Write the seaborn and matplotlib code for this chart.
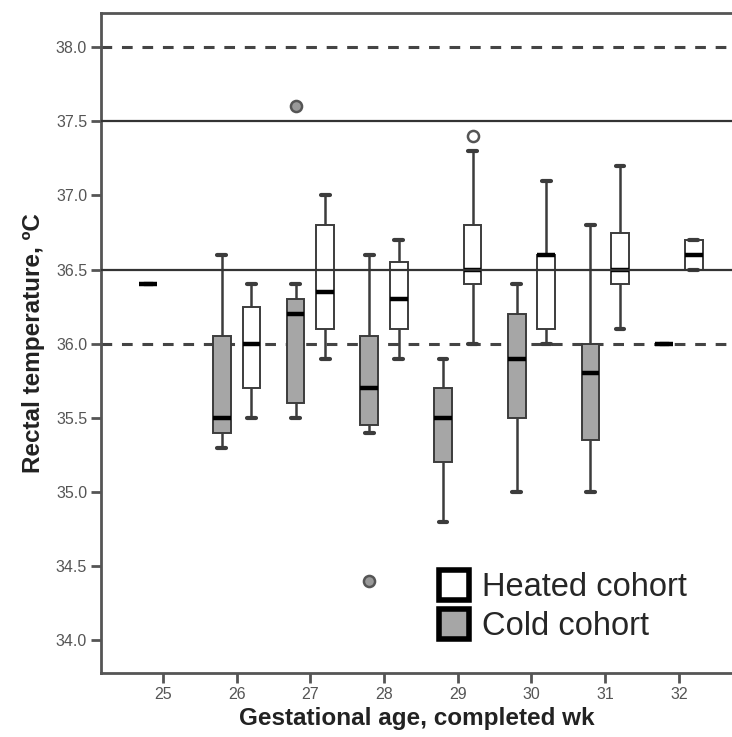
import numpy as np
import pandas as pd
import seaborn as sns
from matplotlib import pyplot as plt
from matplotlib.lines import Line2D

# gestational age categories
ages = ["25", "26", "27", "28", "29", "30", "31", "32"]

# five-number summaries (min, q1, median, q3, max)
cold_min = [36.4, 35.3, 35.5, 35.4, 34.8, 35.0, 35.0, 36.0]
cold_q1 = [36.4, 35.4, 35.6, 35.45, 35.2, 35.5, 35.35, 36.0]
cold_med = [36.4, 35.5, 36.2, 35.7, 35.5, 35.9, 35.8, 36.0]
cold_q3 = [36.4, 36.05, 36.3, 36.05, 35.7, 36.2, 36.0, 36.0]
cold_max = [36.4, 36.6, 36.4, 36.6, 35.9, 36.4, 36.8, 36.0]

heated_ages = ["26", "27", "28", "29", "30", "31", "32"]
heated_min = [35.5, 35.9, 35.9, 36.0, 36.0, 36.1, 36.5]
heated_q1 = [35.7, 36.1, 36.1, 36.4, 36.1, 36.4, 36.5]
heated_med = [36.0, 36.35, 36.3, 36.5, 36.6, 36.5, 36.6]
heated_q3 = [36.25, 36.8, 36.55, 36.8, 36.6, 36.75, 36.7]
heated_max = [36.4, 37.0, 36.7, 37.3, 37.1, 37.2, 36.7]

# outliers
outlier_ages = ["27", "28", "29"]
outlier_cohort = ["Cold cohort", "Cold cohort", "Heated cohort"]
outlier_temp = [37.6, 34.4, 37.4]

COHORTS = ["Cold cohort", "Heated cohort"]
COLORS = {"Cold cohort": "#a6a6a6", "Heated cohort": "#ffffff"}


def long_frame(age_list, cohort, *cols):
    rows = []
    for i, age in enumerate(age_list):
        for col in cols:
            rows.append([age, cohort, col[i]])
    return rows


rows = long_frame(ages, "Cold cohort", cold_min, cold_q1, cold_med, cold_q3, cold_max)
rows += long_frame(heated_ages, "Heated cohort", heated_min, heated_q1, heated_med, heated_q3, heated_max)
df = pd.DataFrame(rows, columns=["age", "cohort", "temp"])
out = pd.DataFrame({"age": outlier_ages, "cohort": outlier_cohort, "temp": outlier_temp})

sns.set_style("ticks")
plt.rcParams["font.family"] = ["Liberation Sans", "DejaVu Sans"]

fig = plt.figure(figsize=(7.32, 7.37), dpi=100)
ax = fig.add_axes([101 / 732, 64 / 737, 631 / 732, 660 / 737])

# reference lines
for y in (38.0, 36.0):
    ax.axhline(y, color="#444444", linestyle=(0, (3.5, 3.2)), linewidth=2.2, zorder=0.5)
for y in (37.5, 36.5):
    ax.axhline(y, color="#333333", linestyle="-", linewidth=1.6, zorder=5)

sns.boxplot(
    data=df, x="age", y="temp", hue="cohort", order=ages, hue_order=COHORTS,
    palette=COLORS, saturation=1, width=0.8, gap=0.4, whis=(0, 100),
    linecolor="#3c3c3c", linewidth=1.4, showfliers=False,
    medianprops={"color": "black", "linewidth": 3.2},
    whiskerprops={"linewidth": 1.8},
    capprops={"linewidth": 3.0},
    legend=False, ax=ax,
)
sns.stripplot(
    data=out, x="age", y="temp", hue="cohort", order=ages, hue_order=COHORTS,
    palette={"Cold cohort": "#999999", "Heated cohort": "#ffffff"},
    dodge=True, jitter=False, size=8, edgecolor="#555555", linewidth=1.8,
    legend=False, ax=ax, zorder=6,
)

ax.set_xlim(-0.84, 7.72)
ax.set_ylim(33.78, 38.23)
ax.set_yticks(np.arange(34.0, 38.01, 0.5))
ax.set_yticklabels([f"{v:.1f}" for v in np.arange(34.0, 38.01, 0.5)])

for side in ("left", "bottom", "top"):
    ax.spines[side].set_color("#555555")
    ax.spines[side].set_linewidth(2)
ax.spines["right"].set_visible(False)
ax.tick_params(axis="both", direction="out", length=7, width=2, color="#555555",
               labelcolor="#555555", labelsize=11.5, pad=3)

ax.set_xlabel("Gestational age, completed wk", fontsize=17.5, fontweight="bold", color="#222222", labelpad=4)
ax.set_ylabel("Rectal temperature, ºC", fontsize=17.5, fontweight="bold", color="#222222", labelpad=8)

handles = [
    Line2D([], [], marker="s", linestyle="", markersize=21, markerfacecolor=COLORS[c],
           markeredgecolor="black", markeredgewidth=4)
    for c in ("Heated cohort", "Cold cohort")
]
ax.legend(handles, ["Heated cohort", "Cold cohort"], loc="upper left",
          bbox_to_anchor=((418 - 101) / 631, (673 - 556) / 660), frameon=False,
          fontsize=23.5, handletextpad=0.25, labelspacing=0.25, borderpad=0, handlelength=1.2)

fig.savefig("out.png", dpi=100)
